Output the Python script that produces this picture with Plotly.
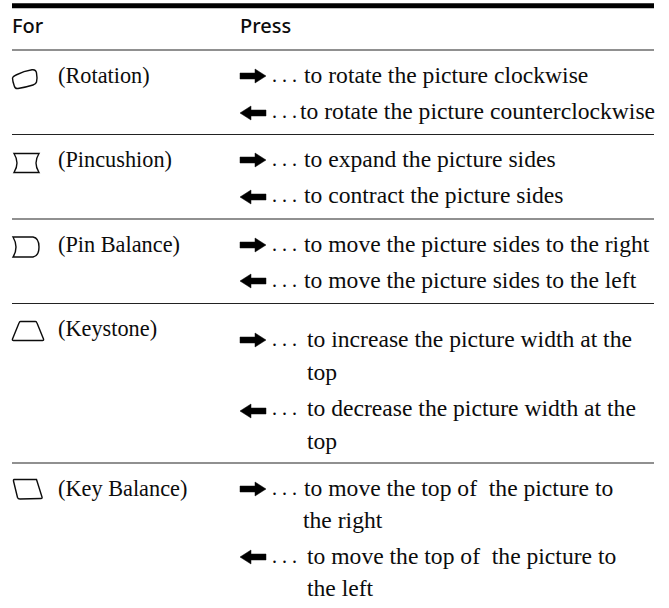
import plotly.graph_objects as go

W, H = 669, 608

# ---- content ----
headers = ["For", "Press"]
labels = ["(Rotation)", "(Pincushion)", "(Pin Balance)", "(Keystone)", "(Key Balance)"]
press_lines = [
    "to rotate the picture clockwise",
    "to rotate the picture counterclockwise",
    "to expand the picture sides",
    "to contract the picture sides",
    "to move the picture sides to the right",
    "to move the picture sides to the left",
    "to increase the picture width at the",
    "top",
    "to decrease the picture width at the",
    "top",
    "to move the top of  the picture to",
    "the right",
    "to move the top of  the picture to",
    "the left",
]
arrow_dirs = ["r", "l", "r", "l", "r", "l", "r", "l", "r", "l"]

# ---- placement (page pixels) ----
header_x = [12, 240]
header_y = [28, 28]
label_x = [58] * 5
label_y = [77, 161, 246, 330, 490]
press_x = [304, 300, 304, 304, 304, 304, 307, 307, 307, 307, 304, 303, 307, 307]
press_y = [77, 113, 161, 197, 246, 282, 341, 374, 410, 443, 490, 522, 558, 590]
arrow_y = [76, 113, 160, 197, 245, 281, 340, 411, 489, 557]
dots_y = [77, 113, 161, 197, 246, 282, 341, 410, 490, 558]
rule_y = [50, 134.5, 219, 303.5, 463]

INK = "#0c0c0c"
SERIF = "Liberation Serif"
SANS = "Noto Sans"

fig = go.Figure()

fig.add_trace(go.Scatter(x=header_x, y=header_y, text=headers, mode="text",
                         textposition="middle right",
                         textfont=dict(family=SANS, size=20, weight=500, color=INK), hoverinfo="skip"))
fig.add_trace(go.Scatter(x=label_x, y=label_y, text=labels, mode="text",
                         textposition="middle right",
                         textfont=dict(family=SERIF, size=22.3, color=INK), hoverinfo="skip"))
fig.add_trace(go.Scatter(x=press_x, y=press_y, text=press_lines, mode="text",
                         textposition="middle right",
                         textfont=dict(family=SERIF, size=23.6, color=INK), hoverinfo="skip"))
fig.add_trace(go.Scatter(x=[272] * len(dots_y), y=dots_y, text=[". . ."] * len(dots_y), mode="text",
                         textposition="middle right",
                         textfont=dict(family=SERIF, size=20, color=INK), hoverinfo="skip"))

shapes = []


def path_shape(d, width=1.4, fill=None):
    shapes.append(dict(type="path", path=d, xref="x", yref="y",
                       line=dict(color=INK, width=width),
                       fillcolor=fill if fill else "rgba(0,0,0,0)"))


# rules
shapes.append(dict(type="line", x0=12, x1=654, y0=5.7, y1=5.7, xref="x", yref="y",
                   line=dict(color="#000000", width=5)))
for ry in rule_y:
    shapes.append(dict(type="line", x0=12, x1=654, y0=ry, y1=ry, xref="x", yref="y",
                       line=dict(color="#222222", width=1.2)))

# arrows
for d, ay in zip(arrow_dirs, arrow_y):
    if d == "r":
        p = (f"M240,{ay-3} L255,{ay-3} L255,{ay-7} L266,{ay} L255,{ay+7} L255,{ay+3} L240,{ay+3} Z")
    else:
        p = (f"M266,{ay-3} L251,{ay-3} L251,{ay-7} L240,{ay} L251,{ay+7} L251,{ay+3} L266,{ay+3} Z")
    path_shape(p, width=0.5, fill="#000000")

# icons
path_shape("M16,75 Q24,71 32,69.8 Q36,69.3 36.5,73 Q37.5,78 36.5,82 Q36,84 33,85 Q25,87.5 18,88.5 "
           "Q15,89 14.3,86 Q12.5,81 12.5,78 Q12.7,76.5 16,75 Z")
path_shape("M14,153.5 L39,153.5 Q33,163 39,172.5 L14,172.5 Q20,163 14,153.5 Z")
path_shape("M13,237 L33,237 Q39,238 39,247 Q39,256 33,257 L13,257 Q19,247 13,237 Z")
path_shape("M20.5,321.5 L35.5,321.5 Q36.5,321.5 37,323 L43.5,339 Q44,340.5 42.5,340.5 L13.5,340.5 "
           "Q12,340.5 12.5,339 L19,323 Q19.5,321.5 20.5,321.5 Z")
path_shape("M14,479.5 L36.5,479.5 L42,497 Q42.5,498.5 41,498.5 L20,499 Q18,499 17.5,497.5 L13.5,481 "
           "Q13.3,479.5 14,479.5 Z")

fig.update_layout(
    width=W, height=H, margin=dict(l=0, r=0, t=0, b=0),
    paper_bgcolor="white", plot_bgcolor="white", showlegend=False, shapes=shapes,
    xaxis=dict(range=[0, W], visible=False, fixedrange=True),
    yaxis=dict(range=[H, 0], visible=False, fixedrange=True),
)
fig.write_html("out.html", config=dict(displayModeBar=False),
               post_script="document.body.style.margin='0';document.body.style.overflow='hidden';")
